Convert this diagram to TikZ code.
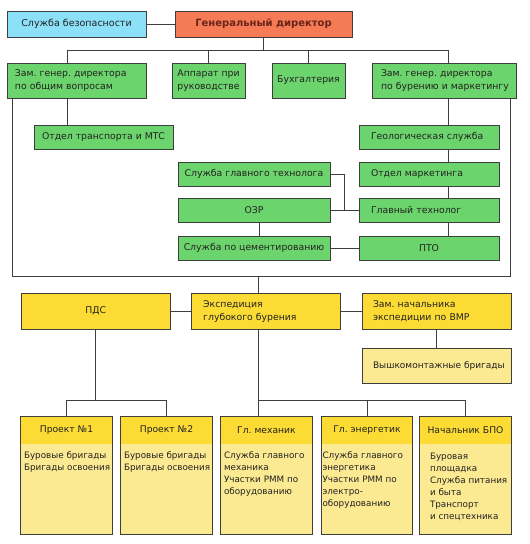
\documentclass[tikz,border=0pt]{standalone}
\usepackage{fontspec}
\setmainfont{DejaVu Sans}
\usetikzlibrary{positioning}

\definecolor{edgec}{RGB}{62,62,62}
\definecolor{txtc}{RGB}{34,34,34}
\definecolor{bluec}{RGB}{140,224,248}
\definecolor{redc}{RGB}{245,122,86}
\definecolor{bossc}{RGB}{105,36,26}
\definecolor{grnc}{RGB}{108,212,108}
\definecolor{ylwc}{RGB}{252,220,52}
\definecolor{paleylw}{RGB}{252,234,146}

\tikzstyle{unit} = [draw=edgec, line width=0.8pt, inner sep=0pt, text=txtc]
\tikzstyle{grn} = [unit, fill=grnc]
\tikzstyle{ylw} = [unit, fill=ylwc]
\tikzstyle{lft} = [align=left]
\tikzstyle{link} = [draw=edgec, line width=0.8pt]
\tikzstyle{unithead} = [fill=ylwc, minimum width=91, minimum height=27, inner sep=0pt, text=txtc,
                        font=\fontsize{9.2}{12}\selectfont]
\tikzstyle{unitbody} = [fill=paleylw, minimum width=91, minimum height=90, inner sep=0pt]
\tikzstyle{note} = [anchor=north west, inner sep=0pt, align=left, text=txtc,
                    font=\fontsize{8.8}{12}\selectfont]

\begin{document}
\frenchspacing
\begin{tikzpicture}[x=1pt, y=-1pt, font=\fontsize{9.3}{12.8}\selectfont]
        \fill[white] (0,0) rectangle (530,544);
        \useasboundingbox (0,0) rectangle (530,544);
        \coordinate (bus)  at (0,50);
        \coordinate (loop) at (0,276.5);
        \coordinate (bus2) at (0,400);
        \coordinate (rc)   at (448,0);

        % Top
        \node[unit, fill=bluec, minimum width=139, minimum height=26, font=\fontsize{9.5}{12}\selectfont]
              (sb) at (76.5,24) {Служба безопасности};
        \node[unit, fill=redc, minimum width=177, minimum height=26, text=bossc, font=\fontsize{10}{12}\selectfont\bfseries]
              (gd) at (263.5,24) {Генеральный директор};
        \draw[link] (sb) -- (gd);

        % Deputies
        \node[grn, minimum width=139, minimum height=35, lft, text width=123] (zo) at (76.5,80.5)
              {\mbox{Зам. генер. директора}\\\mbox{по общим вопросам}};
        \node[grn, minimum width=73, minimum height=35, align=center] (ap) at (208.5,80.5) {Аппарат при\\руководстве};
        \node[grn, minimum width=73, minimum height=35] (bu) at (308.5,80.5) {Бухгалтерия};
        \node[grn, minimum width=144, minimum height=35, lft, text width=126] (zb) at (444,80.5)
              {\mbox{Зам. генер. директора}\\\mbox{по бурению и маркетингу}};

        \draw[link] (gd.south) -- (gd.south |- bus);
        \draw[link] ([xshift=-9.5pt]zo.north) |- (rc |- bus) -- (rc |- zb.north);
        \draw[link] (ap.north) -- (ap.north |- bus);
        \draw[link] (bu.north) -- (bu.north |- bus);

        % Left branch
        \node[grn, minimum width=139, minimum height=24] (tr) at (103.5,137) {Отдел транспорта и МТС};
        \draw[link] ([xshift=-9.5pt]zo.south) -- ([xshift=-9.5pt]zo.south |- tr.north);

        % Right branch
        \node[grn, minimum width=140, minimum height=24, lft, text width=116] (ge) at (429,137) {\mbox{Геологическая служба}};
        \node[grn, minimum width=140, minimum height=24, lft, text width=116] (mk) at (429,174) {Отдел маркетинга};
        \node[grn, minimum width=140, minimum height=24, lft, text width=116] (gt) at (429,210) {Главный технолог};
        \node[grn, minimum width=140, minimum height=24] (pto) at (429,248) {ПТО};
        \foreach \a/\b in {zb/ge, ge/mk, mk/gt, gt/pto}
        {
          \draw[link] (rc |- \a.south) -- (rc |- \b.north);
        }

        % Technologist services
        \node[grn, minimum width=152, minimum height=24] (sg) at (254,174) {Служба главного технолога};
        \node[grn, minimum width=152, minimum height=24] (oz) at (254,210) {ОЗР};
        \node[grn, minimum width=152, minimum height=24] (sc) at (254,248) {Служба по цементированию};
        \draw[link] (sg.east) -| (344,210);
        \draw[link] (oz.east) -- (gt.west);
        \draw[link] (sc.east) -- (pto.west);
        \draw[link] ([xshift=5pt]oz.south) -- ([xshift=5pt]sc.north);

        % Expedition
        \node[ylw, minimum width=149, minimum height=35.5] (pd) at (95.7,311.2) {ПДС};
        \node[ylw, minimum width=149, minimum height=35.5, lft, text width=125] (ex) at (265.7,311.2)
              {Экспедиция\\глубокого бурения};
        \node[ylw, minimum width=149, minimum height=35.5, lft, text width=127] (zn) at (436.5,311.2)
              {\mbox{Зам. начальника}\\\mbox{экспедиции по ВМР}};
        \node[unit, fill=paleylw, minimum width=149, minimum height=34.5, lft, text width=127,
              font=\fontsize{9}{12}\selectfont] (vm) at (436.5,365.8)
              {\mbox{Вышкомонтажные бригады}};
        \draw[link] (pd) -- (ex);
        \draw[link] (ex) -- (zn);
        \draw[link] (zn) -- (vm);
        \draw[link] ([xshift=-9.5pt]zo.south -| 21.6,0) |- (510.4,276.5) -- (zb.south -| 510.4,0);
        \draw[link] ([xshift=-7pt]ex.north |- loop) -- ([xshift=-7pt]ex.north);

        % Bottom units
        \foreach \n/\x/\hd in {p1/66.5/{Проект №1}, p2/166.5/{Проект №2}, gm/266.5/{Гл. механик},
                               en/367/{Гл. энергетик}, bp/465.5/{Начальник БПО}}
        {
          \node[unitbody] (\n-b) at (\x,489) {};
          \node[unithead] (\n-t) at (\x,430.5) {\hd};
          \draw[link] (\n-t.north west) rectangle (\n-b.south east);
        }
        \node[note] (p1-n) at ([xshift=3pt,yshift=-8pt]p1-b.north west) {Буровые бригады\\Бригады освоения};
        \node[note] (p2-n) at ([xshift=3pt,yshift=-8pt]p2-b.north west) {Буровые бригады\\Бригады освоения};
        \node[note] (gm-n) at ([xshift=3pt,yshift=-8pt]gm-b.north west)
              {Служба главного\\механика\\Участки РММ по\\оборудованию};
        \node[note] (en-n) at ([xshift=1pt,yshift=-8pt]en-b.north west)
              {Служба главного\\энергетика\\Участки РММ по\\электро-\\оборудованию};
        \node[note] (bp-n) at ([xshift=10pt,yshift=-9pt]bp-b.north west)
              {Буровая\\площадка\\Служба питания\\и быта\\Транспорт\\и спецтехника};

        \draw[link] (pd.south) -- (pd.south |- bus2);
        \draw[link] (p1-t.north) |- (p2-t.north |- bus2) -- (p2-t.north);
        \draw[link] ([xshift=-7pt]ex.south) -- ([xshift=-7pt]ex.south |- gm-t.north);
        \draw[link] ([xshift=-7pt]ex.south |- bus2) -| (bp-t.north);
        \draw[link] (en-t.north) -- (en-t.north |- bus2);
\end{tikzpicture}
\end{document}
